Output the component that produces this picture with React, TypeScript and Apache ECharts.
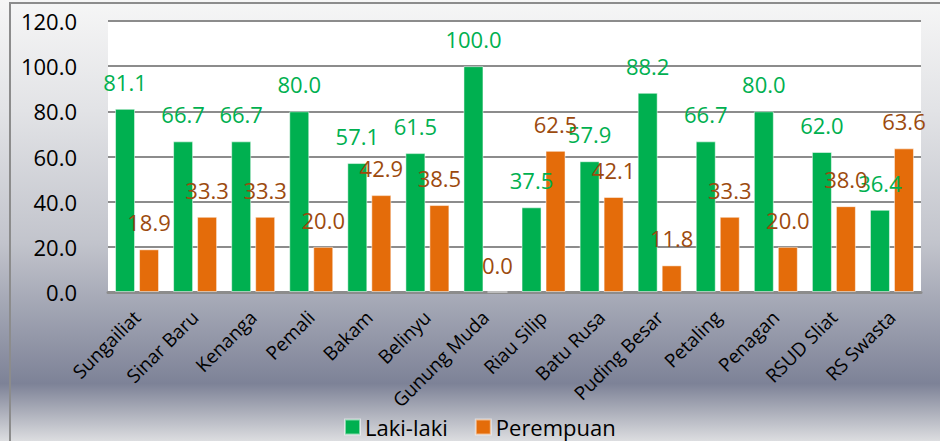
import React, { useEffect, useRef } from "react";
import * as echarts from "echarts";

const categories = [
  "Sungailiat", "Sinar Baru", "Kenanga", "Pemali", "Bakam", "Belinyu", "Gunung Muda",
  "Riau Silip", "Batu Rusa", "Puding Besar", "Petaling", "Penagan", "RSUD Sliat", "RS Swasta",
];
const lakiLaki = [81.1, 66.7, 66.7, 80.0, 57.1, 61.5, 100.0, 37.5, 57.9, 88.2, 66.7, 80.0, 62.0, 36.4];
const perempuan = [18.9, 33.3, 33.3, 20.0, 42.9, 38.5, 0.0, 62.5, 42.1, 11.8, 33.3, 20.0, 38.0, 63.6];
const yMin = 0;
const yMax = 120;
const yInterval = 20;

const FONT = "'Open Sans', 'Noto Sans', sans-serif";

export default function App() {
  const ref = useRef<HTMLDivElement>(null);
  useEffect(() => {
    if (!ref.current) return;
    const chart = echarts.init(ref.current, null, { renderer: "svg" });
    chart.setOption({
      animation: false,
      backgroundColor: "transparent",
      graphic: [
        {
          type: "rect",
          z: -10,
          silent: true,
          shape: { x: 10, y: 3, width: 960, height: 460 },
          style: { fill: "none", stroke: "#8c8c8c", lineWidth: 2 },
        },
      ],
      grid: {
        left: 108,
        right: 19,
        top: 21,
        bottom: 149,
        show: true,
        backgroundColor: "#ffffff",
        borderWidth: 0,
      },
      legend: {
        top: 416,
        left: 344,
        padding: 0,
        itemWidth: 15,
        itemHeight: 15,
        itemGap: 27,
        icon: "rect",
        textStyle: { fontFamily: FONT, fontSize: 22, lineHeight: 22, color: "#000" },
        data: ["Laki-laki", "Perempuan"],
      },
      xAxis: {
        type: "category",
        data: categories,
        axisLine: { show: true, lineStyle: { color: "#8c8c8c", width: 3 } },
        axisTick: { show: false },
        axisLabel: {
          interval: 0,
          rotate: 45,
          margin: 22,
          fontFamily: FONT,
          fontSize: 19,
          color: "#000",
        },
      },
      yAxis: {
        type: "value",
        min: yMin,
        max: yMax,
        interval: yInterval,
        axisLine: { show: false },
        axisTick: { show: false },
        splitLine: { lineStyle: { color: "#8c8c8c", width: 2 } },
        axisLabel: {
          margin: 31,
          fontFamily: FONT,
          fontSize: 22,
          color: "#000",
          formatter: (v: number) => v.toFixed(1),
        },
      },
      series: [
        {
          name: "Laki-laki",
          type: "bar",
          data: lakiLaki,
          barWidth: 20,
          barGap: "20%",
          itemStyle: { color: "#00b050", borderColor: "rgba(255,255,255,0.5)", borderWidth: 1 },
          label: {
            show: true,
            position: "top",
            distance: 16,
            fontFamily: FONT,
            fontSize: 22,
            color: "#00b050",
            formatter: (p: any) => Number(p.value).toFixed(1),
          },
        },
        {
          name: "Perempuan",
          type: "bar",
          data: perempuan,
          barWidth: 20,
          itemStyle: { color: "#e46c0a", borderColor: "rgba(255,255,255,0.5)", borderWidth: 1 },
          label: {
            show: true,
            position: "top",
            distance: 16,
            fontFamily: FONT,
            fontSize: 22,
            color: "#9c4a0e",
            formatter: (p: any) => Number(p.value).toFixed(1),
          },
        },
      ],
    });
    return () => chart.dispose();
  }, []);
  return (
    <div
      style={{
        position: "fixed",
        left: 0,
        top: 0,
        width: 940,
        height: 441,
        background:
          "linear-gradient(to bottom, #f6f6f6 0%, #e2e3e6 25%, #c2c4cc 55%, #7d8297 87%, #a9acb8 93%, #dcdde0 100%)",
      }}
    >
      <div ref={ref} style={{ width: 940, height: 441 }} />
    </div>
  );
}
